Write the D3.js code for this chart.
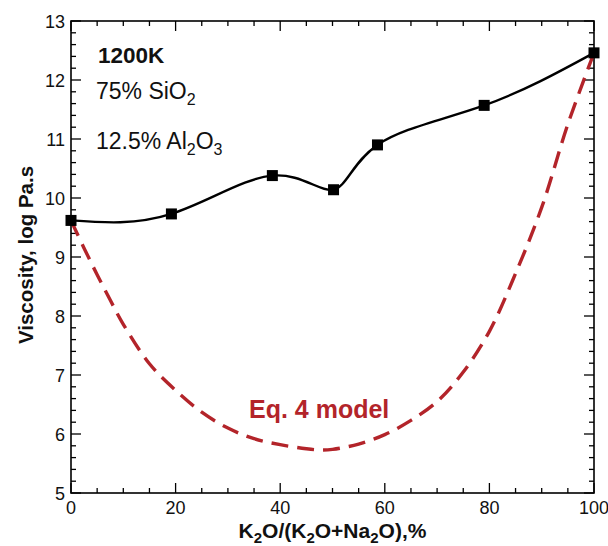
<!DOCTYPE html>
<html>
<head>
<meta charset="utf-8">
<script src="https://cdn.jsdelivr.net/npm/d3@7"></script>
<style>
  html, body { margin: 0; padding: 0; background: #fff; }
  svg { display: block; font-family: "Liberation Sans", Arial, Helvetica, sans-serif; }
</style>
</head>
<body>
<svg id="chart" width="608" height="546"></svg>
<script>
// ---- data ----
const measuredX = [0, 19.2, 38.5, 50.2, 58.6, 79.0, 100];
const measuredY = [9.62, 9.73, 10.38, 10.14, 10.90, 11.57, 12.46];

const modelX = [0, 2.5, 5, 7.5, 10, 15, 20, 25, 30, 35, 40, 45, 47.5, 50, 55, 60, 65, 70, 75, 80, 85, 90, 95, 100];
const modelY = [9.62, 9.15, 8.70, 8.27, 7.86, 7.19, 6.74, 6.37, 6.10, 5.92, 5.82, 5.75, 5.73, 5.74, 5.83, 5.99, 6.23, 6.55, 7.05, 7.74, 8.72, 9.84, 11.25, 12.46];

const xTicks = [0, 20, 40, 60, 80, 100];
const yTicks = [5, 6, 7, 8, 9, 10, 11, 12, 13];

// ---- layout ----
const svg = d3.select("#chart");
const L = 71, R = 594, T = 21, B = 493;
const x = d3.scaleLinear().domain([0, 100]).range([L, R]);
const y = d3.scaleLinear().domain([5, 13]).range([B, T]);
const red = "#b3242a";

const xMinor = d3.range(0, 100.01, 5);
const yMinor = d3.range(5, 13.001, 0.2).map(v => +v.toFixed(1));
function isMajorX(v) { return Math.abs(v % 20) < 1e-6; }
function isMajorY(v) { return Math.abs(v - Math.round(v)) < 1e-6; }

const g = svg.append("g");
xMinor.forEach(v => {
  const len = isMajorX(v) ? 10 : 5;
  g.append("line").attr("x1", x(v)).attr("x2", x(v)).attr("y1", B).attr("y2", B - len)
    .attr("stroke", "#000").attr("stroke-width", 1.3);
  g.append("line").attr("x1", x(v)).attr("x2", x(v)).attr("y1", T).attr("y2", T + len)
    .attr("stroke", "#000").attr("stroke-width", 1.3);
});
yMinor.forEach(v => {
  const len = isMajorY(v) ? 10 : 5;
  g.append("line").attr("x1", L).attr("x2", L + len).attr("y1", y(v)).attr("y2", y(v))
    .attr("stroke", "#000").attr("stroke-width", 1.3);
  g.append("line").attr("x1", R).attr("x2", R - len).attr("y1", y(v)).attr("y2", y(v))
    .attr("stroke", "#000").attr("stroke-width", 1.3);
});

g.append("rect").attr("x", L).attr("y", T).attr("width", R - L).attr("height", B - T)
  .attr("fill", "none").attr("stroke", "#000").attr("stroke-width", 1.6);

xTicks.forEach(v => {
  svg.append("text").attr("x", x(v)).attr("y", B + 21).attr("text-anchor", "middle")
    .attr("font-size", 18).attr("fill", "#111").text(v);
});
yTicks.forEach(v => {
  svg.append("text").attr("x", L - 6).attr("y", y(v) + 6.5).attr("text-anchor", "end")
    .attr("font-size", 18).attr("fill", "#111").text(v);
});

const xt = svg.append("text").attr("x", (L + R) / 2).attr("y", 538).attr("text-anchor", "middle")
  .attr("font-size", 21).attr("font-weight", "bold").attr("fill", "#111");
xt.append("tspan").text("K");
xt.append("tspan").attr("font-size", 15).attr("dy", 5).text("2");
xt.append("tspan").attr("dy", -5).text("O/(K");
xt.append("tspan").attr("font-size", 15).attr("dy", 5).text("2");
xt.append("tspan").attr("dy", -5).text("O+Na");
xt.append("tspan").attr("font-size", 15).attr("dy", 5).text("2");
xt.append("tspan").attr("dy", -5).text("O),%");

svg.append("text").attr("transform", `translate(33,${(T + B) / 2 - 2}) rotate(-90)`)
  .attr("text-anchor", "middle").attr("font-size", 20.5).attr("font-weight", "bold")
  .attr("fill", "#111").text("Viscosity, log Pa.s");

const modelData = modelX.map((v, i) => [v, modelY[i]]);
svg.append("path").datum(modelData)
  .attr("d", d3.line().x(d => x(d[0])).y(d => y(d[1])).curve(d3.curveCatmullRom))
  .attr("fill", "none").attr("stroke", red).attr("stroke-width", 3.4)
  .attr("stroke-dasharray", "17,9");

const measData = measuredX.map((v, i) => [v, measuredY[i]]);
svg.append("path").datum(measData)
  .attr("d", d3.line().x(d => x(d[0])).y(d => y(d[1])).curve(d3.curveNatural))
  .attr("fill", "none").attr("stroke", "#000").attr("stroke-width", 2.4);

const ms = 11;
svg.selectAll("rect.m").data(measData).enter().append("rect").attr("class", "m")
  .attr("x", d => x(d[0]) - ms / 2).attr("y", d => y(d[1]) - ms / 2)
  .attr("width", ms).attr("height", ms).attr("fill", "#000");

svg.append("text").attr("x", 98).attr("y", 63).attr("font-size", 22.5).attr("font-weight", "bold")
  .attr("fill", "#111").text("1200K");

const t1 = svg.append("text").attr("x", 96).attr("y", 99).attr("font-size", 23).attr("fill", "#111");
t1.append("tspan").text("75% SiO");
t1.append("tspan").attr("font-size", 16).attr("dy", 6).text("2");

const t2 = svg.append("text").attr("x", 96).attr("y", 149).attr("font-size", 23).attr("fill", "#111");
t2.append("tspan").text("12.5% Al");
t2.append("tspan").attr("font-size", 16).attr("dy", 6).text("2");
t2.append("tspan").attr("dy", -6).text("O");
t2.append("tspan").attr("font-size", 16).attr("dy", 6).text("3");

svg.append("text").attr("x", 249).attr("y", 418).attr("font-size", 25).attr("font-weight", "bold")
  .attr("fill", red).text("Eq. 4 model");
</script>
</body>
</html>
